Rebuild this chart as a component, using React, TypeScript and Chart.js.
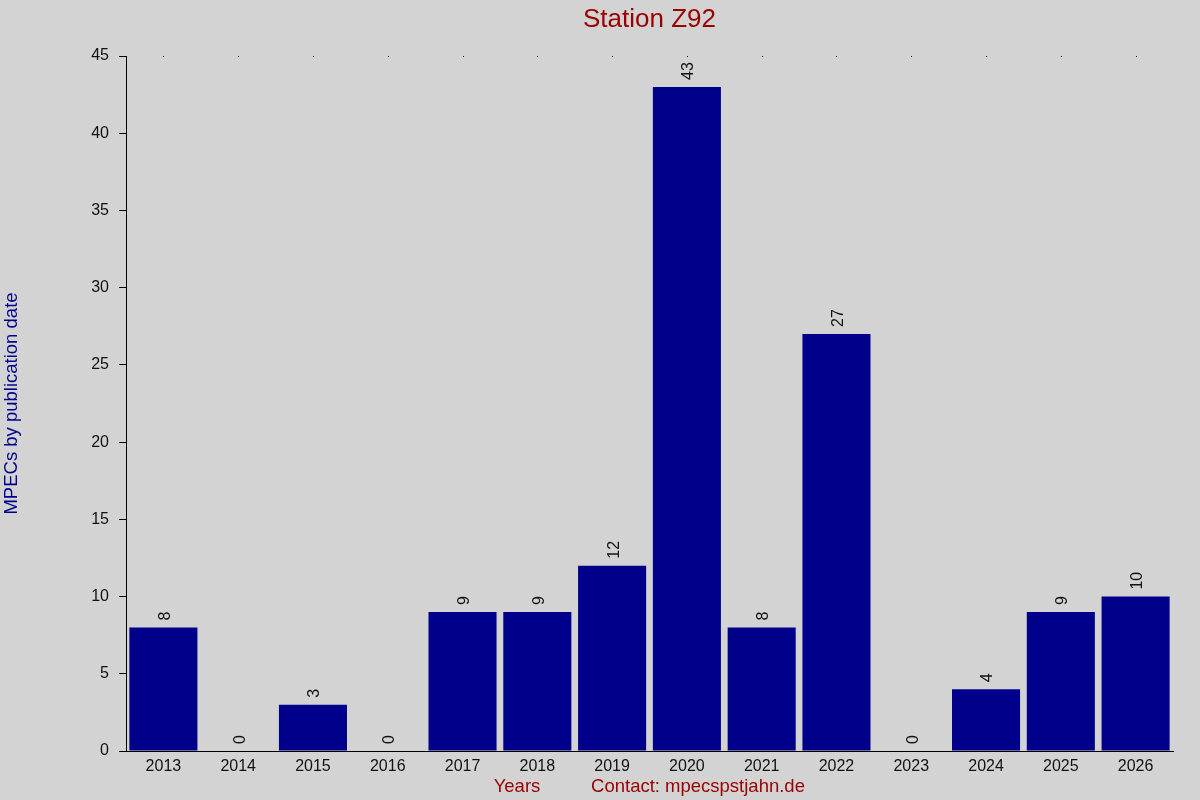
import React, { useEffect, useRef } from "react";
import { Chart, registerables } from "chart.js";

Chart.register(...registerables);

const years = ["2013", "2014", "2015", "2016", "2017", "2018", "2019", "2020", "2021", "2022", "2023", "2024", "2025", "2026"];
const counts = [8, 0, 3, 0, 9, 9, 12, 43, 8, 27, 0, 4, 9, 10];
const yTicks = [0, 5, 10, 15, 20, 25, 30, 35, 40, 45];

const titleText = "Station Z92";
const yTitle = "MPECs by publication date";
const xTitle = "Years";
const contactText = "Contact: mpecspstjahn.de";

const FONT = "Arial, 'Liberation Sans', sans-serif";
const BG = "#d3d3d3";
const DARKRED = "#990000";
const NAVY = "#00008b";

export default function App() {
  const canvasRef = useRef<HTMLCanvasElement | null>(null);

  useEffect(() => {
    document.body.style.margin = "0";
    const canvas = canvasRef.current;
    if (!canvas) return;

    const decorPlugin = {
      id: "decor",
      beforeDraw(chart: any) {
        const ctx = chart.ctx;
        ctx.save();
        ctx.fillStyle = BG;
        ctx.fillRect(0, 0, chart.width, chart.height);
        ctx.restore();
      },
      afterDatasetsDraw(chart: any) {
        const ctx = chart.ctx;
        const meta = chart.getDatasetMeta(0);
        ctx.save();
        ctx.font = `16px ${FONT}`;
        ctx.fillStyle = "#111";
        ctx.textAlign = "left";
        ctx.textBaseline = "middle";
        meta.data.forEach((el: any, i: number) => {
          ctx.save();
          ctx.translate(el.x + 2, el.y - 7);
          ctx.rotate(-Math.PI / 2);
          ctx.fillText(String(counts[i]), 0, 0);
          ctx.restore();
        });
        ctx.restore();
      },
      afterDraw(chart: any) {
        const ctx = chart.ctx;
        const area = chart.chartArea;
        const xs = chart.scales.x;
        ctx.save();
        // small top marks
        ctx.fillStyle = "#000";
        years.forEach((_, i) => {
          const px = Math.round(xs.getPixelForValue(i));
          ctx.fillRect(px, area.top, 1, 1);
        });
        // title
        ctx.fillStyle = DARKRED;
        ctx.font = `26px ${FONT}`;
        ctx.textAlign = "center";
        ctx.textBaseline = "alphabetic";
        ctx.fillText(titleText, (area.left + area.right) / 2, 27);
        // bottom texts
        ctx.font = `18.5px ${FONT}`;
        ctx.fillText(xTitle, 517, 792);
        ctx.fillText(contactText, 698, 792);
        // y title
        ctx.fillStyle = NAVY;
        ctx.save();
        ctx.translate(17, (area.top + area.bottom) / 2);
        ctx.rotate(-Math.PI / 2);
        ctx.textAlign = "center";
        ctx.textBaseline = "alphabetic";
        ctx.fillText(yTitle, 0, 0);
        ctx.restore();
        ctx.restore();
      },
    };

    const chart = new Chart(canvas, {
      type: "bar",
      data: {
        labels: years,
        datasets: [
          {
            data: counts,
            backgroundColor: NAVY,
            borderWidth: 0,
            categoryPercentage: 1,
            barPercentage: 0.91,
          },
        ],
      },
      options: {
        animation: false,
        responsive: false,
        devicePixelRatio: 1,
        layout: { padding: { left: 0, right: 27, top: 56, bottom: 0 } },
        plugins: {
          legend: { display: false },
          title: { display: false },
          tooltip: { enabled: false },
        },
        scales: {
          x: {
            type: "category",
            offset: true,
            grid: { display: false, drawTicks: false },
            border: { display: true, color: "#000", width: 1 },
            ticks: {
              color: "#111",
              font: { family: FONT, size: 16 },
              padding: 6,
              maxRotation: 0,
              autoSkip: false,
            },
            afterFit(scale: any) {
              scale.height = 49;
            },
          },
          y: {
            min: 0,
            max: 45,
            afterBuildTicks(scale: any) {
              scale.ticks = yTicks.map((v) => ({ value: v }));
            },
            grid: {
              display: true,
              drawOnChartArea: false,
              drawTicks: true,
              tickLength: 7,
              color: "#000",
            },
            border: { display: true, color: "#000", width: 1 },
            ticks: {
              color: "#111",
              font: { family: FONT, size: 16 },
              padding: 10,
            },
            afterFit(scale: any) {
              scale.width = 126;
            },
          },
        },
      },
      plugins: [decorPlugin],
    });

    return () => chart.destroy();
  }, []);

  return (
    <div style={{ position: "absolute", left: 0, top: 0, width: 1200, height: 800, background: BG }}>
      <canvas ref={canvasRef} width={1200} height={800} style={{ display: "block", width: 1200, height: 800 }} />
    </div>
  );
}
